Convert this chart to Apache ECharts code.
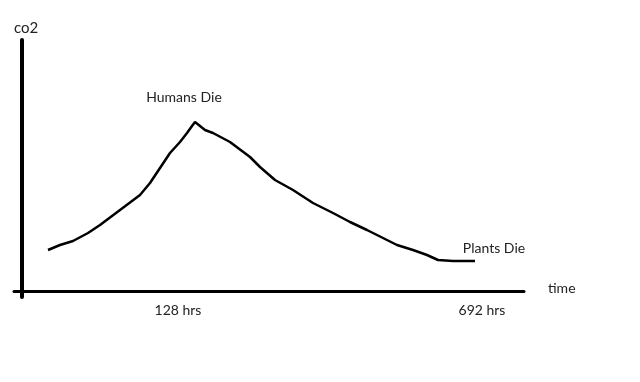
<!DOCTYPE html>
<html>
<head>
<meta charset="utf-8">
<style>html,body{margin:0;padding:0;background:#fff}#c{width:640px;height:382px}</style>
<script src="https://cdn.jsdelivr.net/npm/echarts@6/dist/echarts.min.js"></script>
</head>
<body>
<div id="c"></div>
<script>
// time (arbitrary drawing units) and co2 level (arbitrary units)
var timeValues = [26,38,51,66,78,98,118,128,138,148,158,165,170,173,183,191,208,228,238,253,271,291,311,328,345,361,375,391,405,416,431,453];
var co2Values  = [41,46,50,58,66,81,96,108,123,138,149,158,165,169,161,158,149,134,124,111,101,88,78,69,61,53,46,41,36,31,30,30];
var tickValues = [156, 460];
var tickLabels = ['128 hrs', '692 hrs'];
var annotationIndex = [13, 31];
var annotationText = ['Humans Die', 'Plants Die'];

var FONT = 'Lato';
var TEXT = '#222';
var lineData = timeValues.map(function (t, i) { return [t, co2Values[i]]; });
var annotationData = annotationIndex.map(function (idx, k) {
  var base = { show: true, formatter: annotationText[k], position: 'top', color: TEXT, opacity: 1, fontFamily: FONT, fontSize: 14, textBorderWidth: 0 };
  if (k === 0) { base.distance = 17; base.offset = [-11, 0]; }
  else { base.distance = 5; base.offset = [19, 0]; }
  return { value: [timeValues[idx], co2Values[idx]], label: base };
});

var chart = echarts.init(document.getElementById('c'), null, { renderer: 'canvas' });
chart.setOption({
  animation: false,
  grid: { left: 14, right: 116, top: 40, bottom: 85 },
  xAxis: {
    type: 'value', min: -8, max: 502,
    name: 'time', nameLocation: 'end', nameGap: 24,
    nameTextStyle: { color: TEXT, fontFamily: FONT, fontSize: 14, verticalAlign: 'bottom', lineHeight: 6 },
    axisLine: { onZero: true, lineStyle: { color: '#000', width: 3 } },
    axisTick: { show: false },
    splitLine: { show: false },
    axisLabel: {
      customValues: tickValues, margin: 6, color: TEXT, fontFamily: FONT, fontSize: 14,
      formatter: function (v) { var i = tickValues.indexOf(v); return i >= 0 ? tickLabels[i] : ''; }
    }
  },
  yAxis: {
    type: 'value', min: -6, max: 251,
    name: 'co2', nameLocation: 'end', nameGap: 4,
    nameTextStyle: { color: TEXT, fontFamily: FONT, fontSize: 15, align: 'center', padding: [0, 0, 0, 8] },
    axisLine: { onZero: true, lineStyle: { color: '#000', width: 4 } },
    axisTick: { show: false },
    axisLabel: { show: false },
    splitLine: { show: false }
  },
  series: [{
    type: 'line',
    data: lineData,
    showSymbol: false,
    symbol: 'none',
    lineStyle: { color: '#000', width: 2.5 }
  }, {
    type: 'scatter',
    data: annotationData,
    symbol: 'circle',
    symbolSize: 1,
    itemStyle: { color: '#000', opacity: 0 },
    label: { show: true, color: TEXT, fontFamily: FONT, fontSize: 14 },
    emphasis: { disabled: true },
    silent: true
  }]
});
</script>
</body>
</html>
